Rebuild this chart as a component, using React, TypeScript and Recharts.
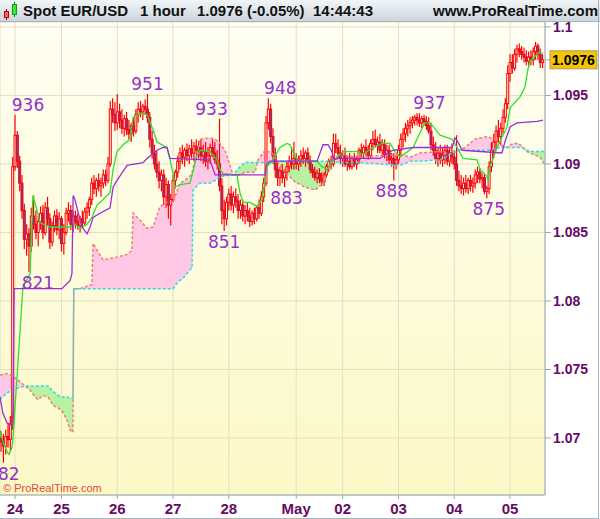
import React from 'react';
import { ComposedChart, XAxis, YAxis, CartesianGrid, Bar, Line, Area, Scatter, ReferenceLine } from 'recharts';

// OHLC candles [open, high, low, close], hourly, grouped by trading day
const lateApr23 = [
  [1.0700,1.0705,1.0690,1.0697],[1.0697,1.0703,1.0682,1.0694],[1.0694,1.0706,1.0688,1.0701],
  [1.0701,1.0711,1.0693,1.0699],[1.0699,1.0716,1.0690,1.0710],[1.0710,1.0905,1.0706,1.0898],
];
const apr24 = [
  [1.0898,1.0936,1.0895,1.0921],[1.0921,1.0924,1.0897,1.0902],[1.0902,1.0906,1.0880,1.0886],
  [1.0886,1.0892,1.0860,1.0866],[1.0866,1.0871,1.0838,1.0845],[1.0845,1.0856,1.0833,1.0849],
  [1.0849,1.0853,1.0821,1.0840],[1.0840,1.0868,1.0836,1.0862],[1.0862,1.0877,1.0852,1.0856],
  [1.0856,1.0866,1.0845,1.0850],[1.0850,1.0862,1.0840,1.0858],[1.0858,1.0869,1.0852,1.0864],
  [1.0864,1.0870,1.0845,1.0850],[1.0850,1.0872,1.0848,1.0868],[1.0868,1.0876,1.0855,1.0860],
  [1.0860,1.0864,1.0838,1.0843],[1.0843,1.0858,1.0840,1.0855],[1.0855,1.0866,1.0850,1.0862],
  [1.0862,1.0867,1.0848,1.0852],[1.0852,1.0865,1.0845,1.0860],
];
const apr25 = [
  [1.0860,1.0862,1.0836,1.0842],[1.0842,1.0856,1.0834,1.0850],[1.0850,1.0868,1.0848,1.0864],
  [1.0864,1.0872,1.0858,1.0866],[1.0866,1.0870,1.0852,1.0856],[1.0856,1.0866,1.0850,1.0862],
  [1.0862,1.0866,1.0853,1.0858],[1.0858,1.0864,1.0852,1.0855],[1.0855,1.0862,1.0850,1.0860],
  [1.0860,1.0866,1.0854,1.0857],[1.0857,1.0868,1.0855,1.0865],[1.0865,1.0872,1.0860,1.0868],
  [1.0868,1.0876,1.0862,1.0874],[1.0874,1.0890,1.0870,1.0886],[1.0886,1.0892,1.0878,1.0882],
  [1.0882,1.0890,1.0876,1.0888],[1.0888,1.0893,1.0880,1.0884],[1.0884,1.0890,1.0876,1.0886],
  [1.0886,1.0896,1.0882,1.0892],[1.0892,1.0896,1.0884,1.0888],[1.0888,1.0905,1.0886,1.0900],
  [1.0900,1.0946,1.0898,1.0940],[1.0940,1.0948,1.0930,1.0936],[1.0936,1.0945,1.0924,1.0930],
];
const apr26 = [
  [1.0930,1.0951,1.0925,1.0938],[1.0938,1.0944,1.0926,1.0932],[1.0932,1.0940,1.0922,1.0926],
  [1.0926,1.0936,1.0920,1.0933],[1.0933,1.0938,1.0921,1.0925],[1.0925,1.0932,1.0918,1.0922],
  [1.0922,1.0930,1.0916,1.0928],[1.0928,1.0934,1.0920,1.0924],[1.0924,1.0940,1.0922,1.0936],
  [1.0936,1.0945,1.0930,1.0940],[1.0940,1.0946,1.0934,1.0938],[1.0938,1.0944,1.0932,1.0942],
  [1.0942,1.0947,1.0936,1.0940],[1.0940,1.0951,1.0930,1.0934],[1.0934,1.0938,1.0912,1.0918],
  [1.0918,1.0924,1.0904,1.0908],[1.0908,1.0914,1.0896,1.0900],[1.0900,1.0910,1.0890,1.0894],
  [1.0894,1.0902,1.0882,1.0888],[1.0888,1.0896,1.0880,1.0892],[1.0892,1.0896,1.0870,1.0876],
  [1.0876,1.0890,1.0868,1.0885],[1.0885,1.0888,1.0860,1.0870],[1.0870,1.0878,1.0855,1.0874],
];
const apr27 = [
  [1.0874,1.0892,1.0872,1.0888],[1.0888,1.0896,1.0882,1.0894],[1.0894,1.0906,1.0890,1.0902],
  [1.0902,1.0912,1.0896,1.0908],[1.0908,1.0914,1.0900,1.0905],[1.0905,1.0912,1.0898,1.0910],
  [1.0910,1.0915,1.0902,1.0906],[1.0906,1.0914,1.0900,1.0911],[1.0911,1.0918,1.0904,1.0908],
  [1.0908,1.0916,1.0902,1.0913],[1.0913,1.0918,1.0906,1.0910],[1.0910,1.0917,1.0904,1.0912],
  [1.0912,1.0918,1.0902,1.0906],[1.0906,1.0914,1.0900,1.0909],[1.0909,1.0916,1.0898,1.0902],
  [1.0902,1.0912,1.0896,1.0906],[1.0906,1.0915,1.0900,1.0912],[1.0912,1.0918,1.0905,1.0908],
  [1.0908,1.0916,1.0900,1.0903],[1.0903,1.0910,1.0896,1.0900],[1.0900,1.0933,1.0880,1.0884],
  [1.0884,1.0890,1.0856,1.0866],[1.0866,1.0874,1.0851,1.0860],[1.0860,1.0876,1.0855,1.0872],
];
const apr28 = [
  [1.0872,1.0882,1.0866,1.0878],[1.0878,1.0884,1.0866,1.0870],[1.0870,1.0880,1.0864,1.0876],
  [1.0876,1.0882,1.0868,1.0873],[1.0873,1.0878,1.0860,1.0866],[1.0866,1.0874,1.0860,1.0870],
  [1.0870,1.0874,1.0858,1.0862],[1.0862,1.0870,1.0856,1.0866],[1.0866,1.0872,1.0858,1.0862],
  [1.0862,1.0868,1.0854,1.0858],[1.0858,1.0866,1.0855,1.0864],[1.0864,1.0868,1.0856,1.0860],
  [1.0860,1.0870,1.0858,1.0868],[1.0868,1.0874,1.0860,1.0864],[1.0864,1.0880,1.0862,1.0876],
  [1.0876,1.0890,1.0872,1.0886],[1.0886,1.0935,1.0884,1.0930],[1.0930,1.0948,1.0925,1.0940],
  [1.0940,1.0944,1.0915,1.0920],[1.0920,1.0926,1.0900,1.0906],[1.0906,1.0912,1.0890,1.0896],
  [1.0896,1.0902,1.0884,1.0890],[1.0890,1.0898,1.0884,1.0895],[1.0895,1.0900,1.0886,1.0890],
  [1.0890,1.0896,1.0883,1.0894],[1.0894,1.0902,1.0888,1.0898],[1.0898,1.0906,1.0894,1.0902],
  [1.0902,1.0912,1.0896,1.0900],[1.0900,1.0916,1.0896,1.0904],
];
const may01 = [
  [1.0904,1.0908,1.0896,1.0900],[1.0900,1.0906,1.0895,1.0903],[1.0903,1.0910,1.0898,1.0906],
  [1.0906,1.0912,1.0900,1.0904],[1.0904,1.0910,1.0898,1.0908],[1.0908,1.0912,1.0900,1.0902],
  [1.0902,1.0906,1.0893,1.0896],[1.0896,1.0900,1.0890,1.0894],[1.0894,1.0898,1.0888,1.0890],
  [1.0890,1.0896,1.0886,1.0893],[1.0893,1.0897,1.0886,1.0889],[1.0889,1.0894,1.0884,1.0887],
  [1.0887,1.0894,1.0884,1.0892],[1.0892,1.0900,1.0890,1.0898],[1.0898,1.0904,1.0894,1.0902],
  [1.0902,1.0906,1.0896,1.0900],[1.0900,1.0922,1.0898,1.0915],[1.0915,1.0922,1.0908,1.0912],
  [1.0912,1.0918,1.0904,1.0908],[1.0908,1.0914,1.0900,1.0904],
];
const may02 = [
  [1.0904,1.0910,1.0898,1.0906],[1.0906,1.0912,1.0898,1.0900],[1.0900,1.0906,1.0895,1.0902],
  [1.0902,1.0908,1.0896,1.0898],[1.0898,1.0906,1.0896,1.0904],[1.0904,1.0908,1.0898,1.0900],
  [1.0900,1.0906,1.0896,1.0903],[1.0903,1.0912,1.0900,1.0910],[1.0910,1.0915,1.0904,1.0908],
  [1.0908,1.0914,1.0904,1.0912],[1.0912,1.0918,1.0906,1.0910],[1.0910,1.0914,1.0903,1.0906],
  [1.0906,1.0918,1.0904,1.0915],[1.0915,1.0924,1.0910,1.0918],[1.0918,1.0925,1.0912,1.0914],
  [1.0914,1.0920,1.0908,1.0916],[1.0916,1.0922,1.0908,1.0910],[1.0910,1.0918,1.0906,1.0914],
  [1.0914,1.0918,1.0904,1.0907],[1.0907,1.0914,1.0902,1.0910],[1.0910,1.0914,1.0900,1.0903],
  [1.0903,1.0908,1.0898,1.0904],[1.0904,1.0908,1.0888,1.0900],[1.0900,1.0906,1.0896,1.0903],
];
const may03 = [
  [1.0903,1.0914,1.0900,1.0910],[1.0910,1.0922,1.0906,1.0918],[1.0918,1.0926,1.0912,1.0922],
  [1.0922,1.0930,1.0916,1.0926],[1.0926,1.0932,1.0920,1.0928],[1.0928,1.0934,1.0922,1.0930],
  [1.0930,1.0935,1.0926,1.0932],[1.0932,1.0936,1.0928,1.0934],[1.0934,1.0937,1.0928,1.0932],
  [1.0932,1.0937,1.0927,1.0930],[1.0930,1.0935,1.0926,1.0933],[1.0933,1.0936,1.0928,1.0931],
  [1.0931,1.0935,1.0925,1.0928],[1.0928,1.0934,1.0922,1.0924],[1.0924,1.0930,1.0910,1.0914],
  [1.0914,1.0920,1.0906,1.0910],[1.0910,1.0916,1.0900,1.0904],[1.0904,1.0912,1.0898,1.0908],
  [1.0908,1.0914,1.0900,1.0903],[1.0903,1.0912,1.0898,1.0906],[1.0906,1.0914,1.0900,1.0910],
  [1.0910,1.0914,1.0899,1.0902],[1.0902,1.0912,1.0898,1.0908],[1.0908,1.0915,1.0900,1.0905],
];
const may04 = [
  [1.0905,1.0910,1.0896,1.0900],[1.0900,1.0921,1.0884,1.0888],[1.0888,1.0895,1.0880,1.0884],
  [1.0884,1.0892,1.0878,1.0882],[1.0882,1.0890,1.0877,1.0886],[1.0886,1.0892,1.0879,1.0882],
  [1.0882,1.0890,1.0878,1.0888],[1.0888,1.0892,1.0880,1.0884],[1.0884,1.0890,1.0879,1.0886],
  [1.0886,1.0896,1.0882,1.0892],[1.0892,1.0898,1.0886,1.0894],[1.0894,1.0897,1.0886,1.0889],
  [1.0889,1.0893,1.0882,1.0890],[1.0890,1.0893,1.0878,1.0880],[1.0880,1.0884,1.0875,1.0882],
  [1.0882,1.0902,1.0878,1.0898],[1.0898,1.0916,1.0894,1.0910],[1.0910,1.0922,1.0904,1.0916],
  [1.0916,1.0928,1.0910,1.0924],[1.0924,1.0932,1.0916,1.0920],[1.0920,1.0930,1.0914,1.0926],
  [1.0926,1.0940,1.0922,1.0934],[1.0934,1.0948,1.0930,1.0944],[1.0944,1.0972,1.0940,1.0966],
];
const may05 = [
  [1.0966,1.0980,1.0960,1.0974],[1.0974,1.0980,1.0966,1.0970],[1.0970,1.0984,1.0968,1.0980],
  [1.0980,1.0987,1.0974,1.0984],[1.0984,1.0988,1.0978,1.0982],[1.0982,1.0986,1.0976,1.0980],
  [1.0980,1.0985,1.0974,1.0978],[1.0978,1.0983,1.0972,1.0975],[1.0975,1.0982,1.0970,1.0978],
  [1.0978,1.0983,1.0972,1.0976],[1.0976,1.0985,1.0972,1.0982],[1.0982,1.0989,1.0976,1.0986],
  [1.0986,1.0988,1.0976,1.0980],[1.0980,1.0984,1.0970,1.0974],[1.0974,1.0980,1.0970,1.0976],
];

const dayTicks = [6, 26, 50, 74, 98, 127, 147, 171, 195, 219];
const dayLabels = ['24', '25', '26', '27', '28', 'May', '02', '03', '04', '05'];
const priceTicks = [1.07, 1.075, 1.08, 1.085, 1.09, 1.095, 1.1];
const priceTickLabels = ['1.07', '1.075', '1.08', '1.085', '1.09', '1.095', '1.1'];
const lastPrice = 1.0976;

// Tenkan (green) [bar, value]
const tenkan = [
  [-0.5,1.0706],[0.8,1.0697],[2.6,1.0690],[3.4,1.0688],[4.7,1.0693],[5.1,1.0699],[9.4,1.0810],[12.5,1.0820],
  [13.7,1.0877],[15.5,1.0866],[16.8,1.0857],[21.1,1.0854],[29.7,1.0854],[31.8,1.0856],[34,1.0853],[37,1.0856],
  [39.1,1.0861],[41.3,1.0870],[43.9,1.0874],[46.9,1.0879],[48.2,1.0896],[49.9,1.0909],[52.5,1.0914],[55.5,1.0918],
  [56.8,1.0934],[59.8,1.0937],[62.8,1.0936],[65.4,1.0925],[67.1,1.0916],[71.4,1.0912],[72.7,1.0903],[74,1.0893],
  [74.8,1.0883],[77,1.0885],[81.3,1.0886],[84.3,1.0906],[85.6,1.0910],[89.9,1.0909],[92.9,1.0903],[94.2,1.0896],
  [95.5,1.0893],[101.5,1.0892],[102.8,1.0879],[104.1,1.0872],[107.1,1.0872],[110.1,1.0869],[112.3,1.0874],
  [114.4,1.0898],[116.6,1.0902],[120,1.0912],[123,1.0915],[124.3,1.0914],[126.5,1.0905],[128.6,1.0902],
  [136,1.0902],[138.1,1.0898],[140.3,1.0896],[142.4,1.0901],[144.6,1.0905],[147.1,1.0909],[153.2,1.0909],
  [155.8,1.0907],[160.1,1.0912],[164,1.0915],[167.4,1.0915],[169.5,1.0909],[171.7,1.0905],[177.3,1.0912],
  [180.3,1.0923],[182.4,1.0930],[184.6,1.0930],[188.9,1.0921],[192.3,1.0919],[194.1,1.0918],[196.2,1.0912],
  [198.8,1.0904],[204.8,1.0903],[206.1,1.0896],[209.1,1.0891],[209.5,1.0888],[210.4,1.0898],[213.4,1.0912],
  [217.7,1.0927],[219,1.0941],[223.3,1.0949],[225.4,1.0956],[226.7,1.0969],[227.6,1.0975],[231.1,1.0981],[233.2,1.0981],
];

// Kijun (purple) [bar, value]
const kijun = [
  [-0.5,1.0730],[0.8,1.0718],[2.6,1.0711],[3.85,1.0710],[4.7,1.0709],[5.1,1.0718],[5.6,1.0809],[26.2,1.0809],
  [29.7,1.0815],[30.5,1.0820],[31,1.0877],[31.8,1.0874],[33.1,1.0865],[34.8,1.0854],[37,1.0849],[38.3,1.0854],
  [39.6,1.0861],[42.6,1.0864],[46.9,1.0868],[48.2,1.0883],[49.9,1.0888],[54.2,1.0899],[61.1,1.0901],[62.8,1.0904],
  [67.1,1.0910],[69.7,1.0912],[71.4,1.0912],[72.7,1.0904],[89.9,1.0903],[92.1,1.0892],[113.6,1.0892],[114,1.0899],
  [115.7,1.0902],[136,1.0902],[138.5,1.0914],[140.7,1.0914],[142.4,1.0909],[143.3,1.0903],[145,1.0904],[163,1.0904],
  [168.6,1.0910],[177.3,1.0912],[194.1,1.0912],[195.3,1.0919],[196.6,1.0916],[198.4,1.0910],[215.5,1.0908],
  [216.8,1.0916],[219,1.0927],[222,1.0930],[230.6,1.0931],[233.2,1.0932],
];

// Cloud [bar, span A (salmon), span B (cyan)]
const cloud = [
  [-0.5,1.0746,1.0728],[2.56,1.0747,1.0733],[5.14,1.0745,1.0735],[8.15,1.0741,1.0737],[10.3,1.0738,1.0738],
  [12.45,1.0735,1.0738],[14.6,1.0730,1.0738],[15.9,1.0728,1.0738],[18.05,1.0731,1.0738],[20.2,1.0730,1.0738],
  [22.35,1.0724,1.0734],[24.5,1.0722,1.0731],[26.2,1.0720,1.0730],[28.4,1.0713,1.0730],[29.7,1.0706,1.0729],
  [30.9,1.0704,1.0729],[31.3,1.0809,1.0809],[34.0,1.0809,1.0809],[39.1,1.0812,1.0809],[39.6,1.0842,1.0809],
  [41.3,1.0837,1.0809],[43.9,1.0830,1.0809],[46.9,1.0831,1.0809],[49.9,1.0832,1.0809],[54.2,1.0834,1.0809],
  [56.3,1.0837,1.0809],[56.8,1.0864,1.0809],[59.8,1.0859,1.0809],[62.8,1.0853,1.0809],[65.4,1.0854,1.0809],
  [68.4,1.0869,1.0809],[71.4,1.0872,1.0809],[74.0,1.0872,1.0809],[75.7,1.0880,1.0813],[77.0,1.0886,1.0815],
  [79.1,1.0888,1.0818],[81.3,1.0891,1.0823],[82.2,1.0894,1.0824],[82.6,1.0897,1.0881],[84.3,1.0908,1.0884],
  [85.6,1.0918,1.0886],[89.9,1.0919,1.0886],[92.1,1.0918,1.0888],[94.2,1.0915,1.0891],[96.4,1.0910,1.0891],
  [97.7,1.0903,1.0892],[99.8,1.0892,1.0892],[102.8,1.0892,1.0898],[105.0,1.0894,1.0901],[109.3,1.0894,1.0901],
  [110.6,1.0903,1.0901],[113.6,1.0910,1.0901],[116.6,1.0908,1.0901],[119.2,1.0901,1.0902],[122.2,1.0894,1.0902],
  [126.5,1.0887,1.0902],[130.8,1.0883,1.0902],[135.1,1.0881,1.0902],[138.1,1.0885,1.0902],[140.7,1.0896,1.0902],
  [142.4,1.0904,1.0902],[145.9,1.0906,1.0901],[154.5,1.0905,1.0901],[163.1,1.0906,1.0900],[171.7,1.0907,1.0899],
  [176.0,1.0905,1.0902],[180.3,1.0908,1.0902],[188.9,1.0909,1.0903],[193.2,1.0907,1.0907],[196.2,1.0909,1.0910],
  [199.6,1.0912,1.0910],[203.9,1.0918,1.0910],[209.1,1.0920,1.0910],[212.5,1.0918,1.0911],[214.7,1.0914,1.0912],
  [217.7,1.0912,1.0912],[220.3,1.0915,1.0912],[222.4,1.0915,1.0912],[224.2,1.0913,1.0912],[226.3,1.0909,1.0910],
  [228.9,1.0907,1.0909],[231.9,1.0905,1.0909],[234.1,1.0899,1.0909],
];

// Marked extremes
const extremeBars = [6, 63, 94, 115, 180, 12, 96, 122, 169, 209, 1];
const extremeValues = [1.0936, 1.0951, 1.0933, 1.0948, 1.0937, 1.0821, 1.0851, 1.0883, 1.0888, 1.0875, 1.0682];
const extremeTexts = ['936', '951', '933', '948', '937', '821', '851', '883', '888', '875', '682'];
const extremeIsHigh = [true, true, true, true, true, false, false, false, false, false, false];
const extremeShift = [13, 0, -8, 12, 10, 9, 0, 2, -2, 2, 0];

const candles = [...lateApr23, ...apr24, ...apr25, ...apr26, ...apr27, ...apr28, ...may01, ...may02, ...may03, ...may04, ...may05];
const rows = candles.map(([o, h, l, c], i) => ({ i, o, h, l, c, range: [l, h] }));
const tenkanRows = tenkan.map(([i, v]) => ({ i, v }));
const kijunRows = kijun.map(([i, v]) => ({ i, v }));
const cloudRows = cloud.map(([i, a, b]) => ({
  i, a, b,
  pink: a >= b ? [b, a] : [b, b],
  green: b > a ? [a, b] : [a, a],
}));
const extremeRows = extremeBars.map((i, k) => ({
  i, v: extremeValues[k], text: extremeTexts[k], high: extremeIsHigh[k], shift: extremeShift[k],
}));

const PLOT_W = 545;
const PLOT_H = 473;
const AXIS_COLOR = '#9ca6ae';
const TICK_COLOR = '#660a66';

function Candle(props: any) {
  const { x, y, width, height, payload } = props;
  if (!payload) return null;
  const { o, h, l, c } = payload;
  const top = Math.min(y, y + height);
  const bot = Math.max(y, y + height);
  const cx = x + width / 2;
  const k = h > l ? (bot - top) / (h - l) : 0;
  const py = (v: number) => top + (h - v) * k;
  const yo = py(o);
  const yc = py(c);
  const bt = Math.min(yo, yc);
  const bb = Math.max(yo, yc);
  const up = c >= o;
  return (
    <g>
      <line x1={cx} x2={cx} y1={top} y2={bot} stroke="#ff0000" strokeWidth={1.2} />
      <rect x={cx - 1} y={bt} width={2} height={Math.max(bb - bt, 0.6)} fill={up ? '#fffbe0' : '#5b45b5'} stroke="#ff0000" strokeWidth={1} />
    </g>
  );
}

function ExtremeLabel(props: any) {
  const { cx, cy, payload } = props;
  if (!payload || cx == null || cy == null) return null;
  return (
    <text x={cx + payload.shift} y={payload.high ? cy - 4 : cy + 17} textAnchor="middle" fontSize={17}
      fontFamily="DejaVu Sans, Verdana, sans-serif" fill="#9430cc">{payload.text}</text>
  );
}

function PriceTag(props: any) {
  const vb = props.viewBox || {};
  const x = (vb.x || 0) + (vb.width || 0);
  const y = vb.y || 0;
  return (
    <g>
      <line x1={x} x2={x + 5} y1={y} y2={y} stroke={AXIS_COLOR} />
      <rect x={x + 5} y={y - 9} width={47} height={18} fill="#f7c500" stroke="#a89a60" />
      <text x={x + 28.5} y={y + 5} textAnchor="middle" fontSize={14} fontWeight="bold"
        fontFamily="Liberation Sans, Arial, sans-serif" fill="#000">{lastPrice.toFixed(4)}</text>
    </g>
  );
}

const headerText: React.CSSProperties = {
  position: 'absolute', top: 2, fontFamily: 'Liberation Sans, Arial, sans-serif', fontWeight: 'bold',
  fontSize: 15, color: '#111', whiteSpace: 'nowrap',
};

export default function App() {
  return (
    <div style={{ position: 'absolute', left: 0, top: 0, width: 600, height: 519, background: '#fff', overflow: 'hidden' }}>
      <div style={{ position: 'absolute', left: 0, top: 22, width: PLOT_W, height: PLOT_H,
        background: 'linear-gradient(#fffff3, #fcf8c6)' }} />
      <div style={{ position: 'absolute', left: 0, top: 0 }}>
        <ComposedChart width={600} height={519} data={rows} margin={{ top: 22, right: 0, bottom: 0, left: 0 }}>
          <CartesianGrid stroke="#e3dfc2" strokeWidth={1} />
          <XAxis type="number" dataKey="i" domain={[-0.46, 234.05]} allowDataOverflow ticks={dayTicks} interval={0}
            tickFormatter={(v: number) => dayLabels[dayTicks.indexOf(v)] ?? ''} height={24} tickSize={4} tickMargin={4}
            stroke={AXIS_COLOR} tick={{ fill: TICK_COLOR, fontSize: 15, fontWeight: 'bold', fontFamily: 'Liberation Sans, Arial, sans-serif' }} />
          <YAxis type="number" orientation="right" width={55} domain={[1.06584, 1.10036]} allowDataOverflow
            ticks={priceTicks} interval={0} tickFormatter={(v: number) => priceTickLabels[priceTicks.indexOf(v)] ?? ''}
            tickSize={6} tickMargin={2} stroke={AXIS_COLOR}
            tick={{ fill: TICK_COLOR, fontSize: 14, fontWeight: 'bold', fontFamily: 'Liberation Sans, Arial, sans-serif', textAnchor: 'start' }} />
          <Area data={cloudRows} dataKey="pink" type="linear" stroke="none" fill="#ffc9e6" fillOpacity={1} isAnimationActive={false} />
          <Area data={cloudRows} dataKey="green" type="linear" stroke="none" fill="#b6f2a2" fillOpacity={1} isAnimationActive={false} />
          <Line data={cloudRows} dataKey="a" type="linear" stroke="#f27c74" strokeWidth={1.5} strokeDasharray="3 2" dot={false} isAnimationActive={false} />
          <Line data={cloudRows} dataKey="b" type="linear" stroke="#2fd9e6" strokeWidth={1.5} strokeDasharray="3 2" dot={false} isAnimationActive={false} />
          <Bar dataKey="range" barSize={3} shape={(p: any) => <Candle {...p} />} isAnimationActive={false} />
          <Line data={tenkanRows} dataKey="v" type="linear" stroke="#2ee02e" strokeWidth={1.3} dot={false} isAnimationActive={false} />
          <Line data={kijunRows} dataKey="v" type="linear" stroke="#9a2fd6" strokeWidth={1.3} dot={false} isAnimationActive={false} />
          <Scatter data={extremeRows} dataKey="v" shape={(p: any) => <ExtremeLabel {...p} />} isAnimationActive={false} />
          <ReferenceLine y={lastPrice} stroke="none" label={<PriceTag />} />
        </ComposedChart>
      </div>
      <div style={{ position: 'absolute', left: 0, top: 0, width: 600, height: 22, boxSizing: 'border-box',
        background: 'linear-gradient(#f1f5f8, #ccd6dd)', borderBottom: '1px solid #a9b3bb' }}>
        <svg width={20} height={22} style={{ position: 'absolute', left: 2, top: 0 }}>
          <line x1={4.5} x2={4.5} y1={9} y2={20} stroke="#a00" />
          <rect x={2.5} y={11.5} width={4} height={6} fill="#f06a6a" stroke="#b00" />
          <line x1={12.5} x2={12.5} y1={2} y2={17} stroke="#080" />
          <rect x={10.5} y={4.5} width={4} height={10} fill="#44e044" stroke="#0a0" />
        </svg>
        <span style={{ ...headerText, left: 23 }}>Spot EUR/USD</span>
        <span style={{ ...headerText, left: 140 }}>1 hour</span>
        <span style={{ ...headerText, left: 197 }}>1.0976 (-0.05%)</span>
        <span style={{ ...headerText, left: 313 }}>14:44:43</span>
        <span style={{ ...headerText, left: 433 }}>www.ProRealTime.com</span>
      </div>
      <div style={{ position: 'absolute', left: 3, top: 482, fontFamily: 'Liberation Sans, Arial, sans-serif',
        fontSize: 11, color: '#e0483e', whiteSpace: 'nowrap' }}>© ProRealTime.com</div>
      <div style={{ position: 'absolute', left: 0, top: 518, width: 599, height: 1, background: '#a9b3bb' }} />
      <div style={{ position: 'absolute', left: 598, top: 0, width: 1, height: 519, background: '#a9b3bb' }} />
    </div>
  );
}
